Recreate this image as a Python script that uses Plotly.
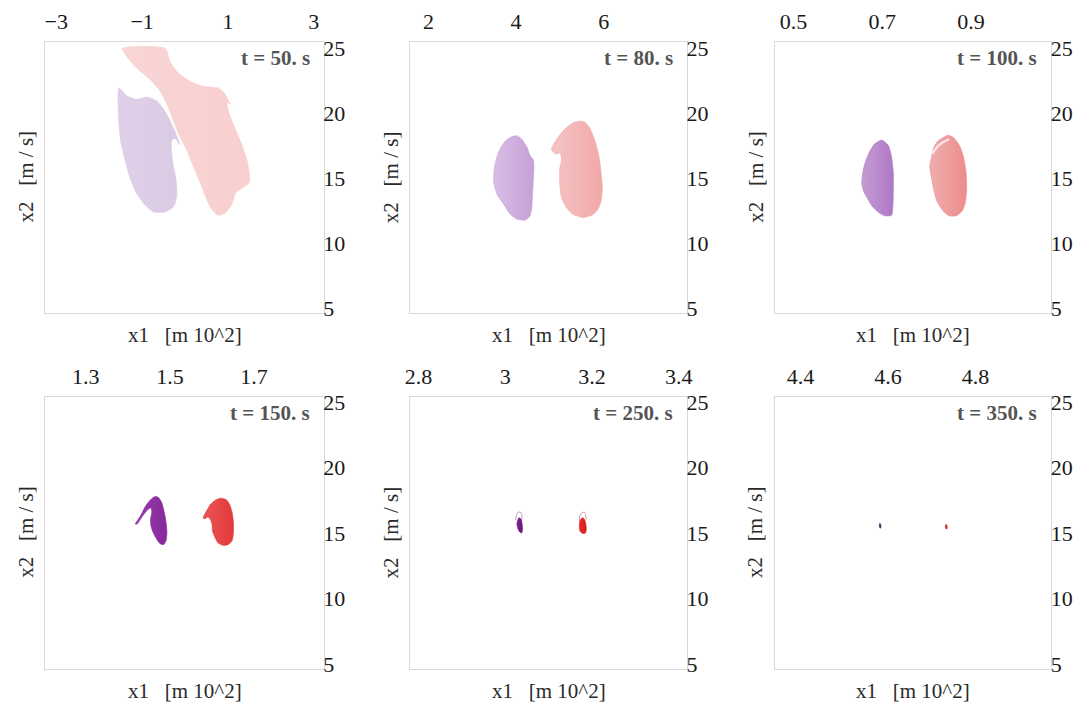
import plotly.graph_objects as go

# ---- data -------------------------------------------------------------
TIMES = [50, 80, 100, 150, 250, 350]

X_TICK_VALUES = [[-3, -1, 1, 3], [2, 4, 6], [0.5, 0.7, 0.9],
                 [1.3, 1.5, 1.7], [2.8, 3.0, 3.2, 3.4], [4.4, 4.6, 4.8]]
X_TICK_LABELS = [["\u22123", "\u22121", "1", "3"], ["2", "4", "6"], ["0.5", "0.7", "0.9"],
                 ["1.3", "1.5", "1.7"], ["2.8", "3", "3.2", "3.4"], ["4.4", "4.6", "4.8"]]
Y_TICK_VALUES = [5, 10, 15, 20, 25]
Y_TICK_LABELS = ["5", "10", "15", "20", "25"]

# t = 50 s
purple_50_x = [-1.54, -1.35, -1.12, -0.89, -0.66, -0.50, -0.35, -0.23, -0.12, -0.23, -0.31, -0.31,
               -0.27, -0.21, -0.19, -0.27, -0.46, -0.73, -0.92, -1.12, -1.27, -1.38, -1.49, -1.54]
purple_50_y = [21.96, 21.33, 21.08, 21.26, 20.95, 20.33, 19.45, 18.56, 17.56, 18.06, 17.94, 16.93,
               15.92, 14.92, 13.66, 12.78, 12.40, 12.40, 12.90, 13.79, 14.92, 16.18, 17.69, 19.20]
red_50_x = [-1.46, -0.46, -0.35, -0.15, 0.12, 0.42, 0.77, 0.88, 0.96, 1.04, 1.08, 0.98, 1.02, 1.15,
            1.31, 1.46, 1.50, 1.35, 1.19, 1.08, 0.92, 0.77, 0.61, 0.50, 0.35, 0.19, 0.04, -0.12,
            -0.27, -0.42, -0.58, -0.81, -1.12, -1.35]
red_50_y = [25.0, 25.0, 23.97, 23.09, 22.46, 22.09, 21.96, 21.71, 21.33, 20.83, 20.71, 20.83, 20.07,
            18.94, 17.69, 16.18, 14.67, 14.29, 13.91, 12.90, 12.28, 12.15, 12.65, 13.41, 14.67,
            15.92, 17.18, 18.18, 19.45, 20.71, 21.71, 22.59, 23.47, 24.35]

# t = 80 s
purple_80_x = [4.02, 3.91, 3.76, 3.60, 3.51, 3.49, 3.57, 3.72, 3.87, 4.02, 4.21, 4.32, 4.36, 4.38,
               4.40, 4.40, 4.32, 4.25, 4.13]
purple_80_y = [18.26, 18.21, 17.88, 17.01, 15.88, 14.74, 13.73, 12.98, 12.22, 11.85, 11.77, 12.10,
               12.73, 13.99, 15.24, 16.37, 16.75, 17.38, 18.01]
red_80_x = [5.45, 5.57, 5.68, 5.79, 5.89, 5.94, 5.97, 5.94, 5.87, 5.75, 5.53, 5.30, 5.15, 5.04,
            5.00, 5.00, 5.04, 5.00, 4.91, 4.82, 4.81, 4.93, 5.11, 5.30]
red_80_y = [19.39, 19.32, 18.89, 18.01, 16.75, 15.50, 14.24, 13.23, 12.60, 12.18, 11.97, 12.22,
            12.73, 13.48, 14.49, 15.75, 16.50, 16.95, 16.86, 17.11, 17.31, 18.01, 18.77, 19.27]

# t = 100 s
purple_100_x = [0.699, 0.681, 0.666, 0.657, 0.654, 0.658, 0.666, 0.677, 0.692, 0.706, 0.721,
                0.724, 0.725, 0.725, 0.721, 0.714]
purple_100_y = [17.94, 17.58, 16.63, 15.62, 14.61, 13.99, 13.48, 12.86, 12.35, 12.10, 12.15,
                12.86, 14.11, 15.37, 16.63, 17.51]
red_100_x = [0.848, 0.860, 0.874, 0.883, 0.889, 0.890, 0.887, 0.880, 0.866, 0.851, 0.837, 0.823,
             0.816, 0.811, 0.807, 0.811, 0.816, 0.826]
red_100_y = [18.31, 18.14, 17.51, 16.63, 15.37, 14.11, 13.11, 12.48, 12.10, 12.10, 12.48, 13.23,
             14.11, 14.99, 15.88, 16.63, 17.38, 17.88]
fold_100_x = [0.813, 0.824, 0.837, 0.851]
fold_100_y = [16.90, 17.42, 17.78, 18.01]

# t = 150 s
purple_150_x = [1.418, 1.430, 1.442, 1.454, 1.465, 1.473, 1.481, 1.487, 1.491, 1.493, 1.491,
                1.485, 1.477, 1.468, 1.460, 1.455, 1.454, 1.457, 1.455, 1.446, 1.434, 1.422]
purple_150_y = [15.69, 16.31, 17.05, 17.55, 17.80, 17.72, 17.30, 16.55, 15.81, 15.06, 14.44,
                14.12, 14.19, 14.57, 15.06, 15.56, 16.06, 16.60, 16.93, 16.75, 16.25, 15.69]
red_150_x = [1.579, 1.587, 1.596, 1.610, 1.622, 1.634, 1.642, 1.648, 1.651, 1.651, 1.648, 1.638,
             1.626, 1.614, 1.607, 1.601, 1.600, 1.596, 1.591, 1.583]
red_150_y = [16.16, 16.68, 17.18, 17.55, 17.67, 17.55, 17.18, 16.55, 15.81, 15.06, 14.44, 14.12,
             14.07, 14.27, 14.69, 15.19, 15.69, 16.06, 16.23, 16.10]

# t = 250 s
purple_250_x = [3.032, 3.037, 3.039, 3.040, 3.038, 3.033, 3.029, 3.027, 3.029]
purple_250_y = [16.18, 16.06, 15.69, 15.31, 15.01, 15.11, 15.36, 15.69, 16.01]
loop_purple_250_x = [3.024, 3.026, 3.030, 3.035, 3.038, 3.039]
loop_purple_250_y = [16.01, 16.36, 16.58, 16.60, 16.43, 16.06]
red_250_x = [3.178, 3.183, 3.186, 3.187, 3.185, 3.178, 3.172, 3.171, 3.172]
red_250_y = [16.18, 16.06, 15.69, 15.31, 15.01, 14.99, 15.19, 15.56, 15.93]
loop_red_250_x = [3.171, 3.172, 3.177, 3.182, 3.185, 3.187]
loop_red_250_y = [15.93, 16.31, 16.55, 16.60, 16.43, 16.06]

# t = 350 s
purple_350_x = [4.5815, 4.5835, 4.5840, 4.5830, 4.5810, 4.5800]
purple_350_y = [15.75, 15.65, 15.50, 15.38, 15.42, 15.58]
red_350_x = [4.7325, 4.7345, 4.7355, 4.7345, 4.7320, 4.7310]
red_350_y = [15.68, 15.60, 15.45, 15.32, 15.35, 15.52]

# ---- styling ----------------------------------------------------------
PURPLE_SHADES = [("#dfd0e8", "#dacae4"), ("#d8bee4", "#c5a0d7"), ("#c49cd4", "#af78c6"),
                 ("#9a3cad", "#86299b"), ("#7e2090", "#6c157f"), ("#5a2270", "#4a1a5e")]
RED_SHADES = [("#f9d5d5", "#f8cfcf"), ("#f5c4c4", "#f1a8a8"), ("#f0aeae", "#eb8c8c"),
              ("#ec5454", "#e23a3a"), ("#e62c2c", "#d81c1c"), ("#d83030", "#cc2424")]

purple_shapes = [(purple_50_x, purple_50_y), (purple_80_x, purple_80_y),
                 (purple_100_x, purple_100_y), (purple_150_x, purple_150_y),
                 (purple_250_x, purple_250_y), (purple_350_x, purple_350_y)]
red_shapes = [(red_50_x, red_50_y), (red_80_x, red_80_y), (red_100_x, red_100_y),
              (red_150_x, red_150_y), (red_250_x, red_250_y), (red_350_x, red_350_y)]

W, H = 1089, 711
COL_PX = [(40.7, 321.7), (408.7, 688.5), (776.7, 1056.0)]
ROW_PX = [(35.7, 312.7), (398.3, 676.0)]
X_RANGES = [[-3.254, 3.231], [1.577, 7.907], [0.4575, 1.0806],
            [1.2042, 1.8654], [2.7804, 3.4196], [4.3407, 4.9733]]
Y_RANGES = [[4.60, 25.506], [4.664, 25.388]]

SERIF = "Liberation Serif"
FRAME = "#d9d9d9"

fig = go.Figure()


def closed(v):
    return list(v) + [v[0]]


def blob(xs, ys, shades, i, smooth=True):
    return go.Scatter(
        x=closed(xs), y=closed(ys), mode="lines", fill="toself",
        fillcolor=shades[0],
        fillgradient=dict(type="horizontal",
                          colorscale=[[0, shades[0]], [1, shades[1]]]),
        line=dict(color=shades[1], width=0.6,
                  shape="spline" if smooth else "linear", smoothing=0.6),
        xaxis=f"x{i + 1}", yaxis=f"y{i + 1}",
        hoverinfo="skip", showlegend=False)


for i in range(6):
    px, py = purple_shapes[i]
    rx, ry = red_shapes[i]
    fig.add_trace(blob(px, py, PURPLE_SHADES[i], i))
    fig.add_trace(blob(rx, ry, RED_SHADES[i], i))

# light fold inside the red set at t = 100 s
fig.add_trace(go.Scatter(x=fold_100_x, y=fold_100_y, mode="lines",
                         line=dict(color="#fbe6e6", width=2.2, shape="spline"),
                         xaxis="x3", yaxis="y3", hoverinfo="skip", showlegend=False))
# thin filaments at t = 250 s
fig.add_trace(go.Scatter(x=loop_purple_250_x, y=loop_purple_250_y, mode="lines",
                         line=dict(color="#b89ab9", width=1, shape="spline"),
                         xaxis="x5", yaxis="y5", hoverinfo="skip", showlegend=False))
fig.add_trace(go.Scatter(x=loop_red_250_x, y=loop_red_250_y, mode="lines",
                         line=dict(color="#d49a9a", width=1, shape="spline"),
                         xaxis="x5", yaxis="y5", hoverinfo="skip", showlegend=False))

annotations = []
layout = dict(
    width=W, height=H, margin=dict(l=0, r=0, t=0, b=0),
    paper_bgcolor="white", plot_bgcolor="white", showlegend=False,
    font=dict(family=SERIF),
)

for i in range(6):
    row, col = divmod(i, 3)
    x0, x1 = COL_PX[col]
    y0, y1 = ROW_PX[row]
    ax_x = dict(
        domain=[x0 / W, x1 / W], range=X_RANGES[i], side="top",
        anchor=f"y{i + 1}", tickmode="array", tickvals=X_TICK_VALUES[i],
        ticktext=X_TICK_LABELS[i], ticks="", showgrid=False, zeroline=False,
        showline=True, linecolor=FRAME, linewidth=1, mirror=True,
        tickfont=dict(family=SERIF, size=22, color="#1a1a1a"),
        ticklabelstandoff=3, fixedrange=True,
    )
    ax_y = dict(
        domain=[1 - y1 / H, 1 - y0 / H], range=Y_RANGES[row], side="right",
        anchor=f"x{i + 1}", tickmode="array", tickvals=Y_TICK_VALUES,
        ticktext=Y_TICK_LABELS, ticks="", showgrid=False, zeroline=False,
        showline=True, linecolor=FRAME, linewidth=1, mirror=True,
        tickfont=dict(family=SERIF, size=22, color="#1a1a1a"),
        ticklabelstandoff=-6, fixedrange=True,
    )
    layout[f"xaxis{i + 1}"] = ax_x
    layout[f"yaxis{i + 1}"] = ax_y

    # time stamp in the upper right corner of each panel
    annotations.append(dict(
        text=f"<b>t = {TIMES[i]}. s</b>", xref="paper", yref="paper",
        x=(x1 - 12) / W, y=1 - (y0 + 16) / H, xanchor="right", yanchor="middle",
        showarrow=False, font=dict(family=SERIF, size=21, color="#555555")))
    # axis titles
    annotations.append(dict(
        text="x1\u00a0\u00a0\u00a0[m 10^2]", xref="paper", yref="paper",
        x=(x0 + x1) / 2 / W, y=1 - (y1 + 22.5) / H, xanchor="center", yanchor="middle",
        showarrow=False, font=dict(family=SERIF, size=21, color="#2a2a2a")))
    annotations.append(dict(
        text="x2\u00a0\u00a0\u00a0[m / s]", xref="paper", yref="paper",
        x=(x0 - 19) / W, y=1 - ((y0 + y1) / 2 - 0.5) / H, xanchor="center",
        yanchor="middle", textangle=-90,
        showarrow=False, font=dict(family=SERIF, size=21, color="#2a2a2a")))

layout["annotations"] = annotations
fig.update_layout(**layout)

fig.write_html("out.html")
